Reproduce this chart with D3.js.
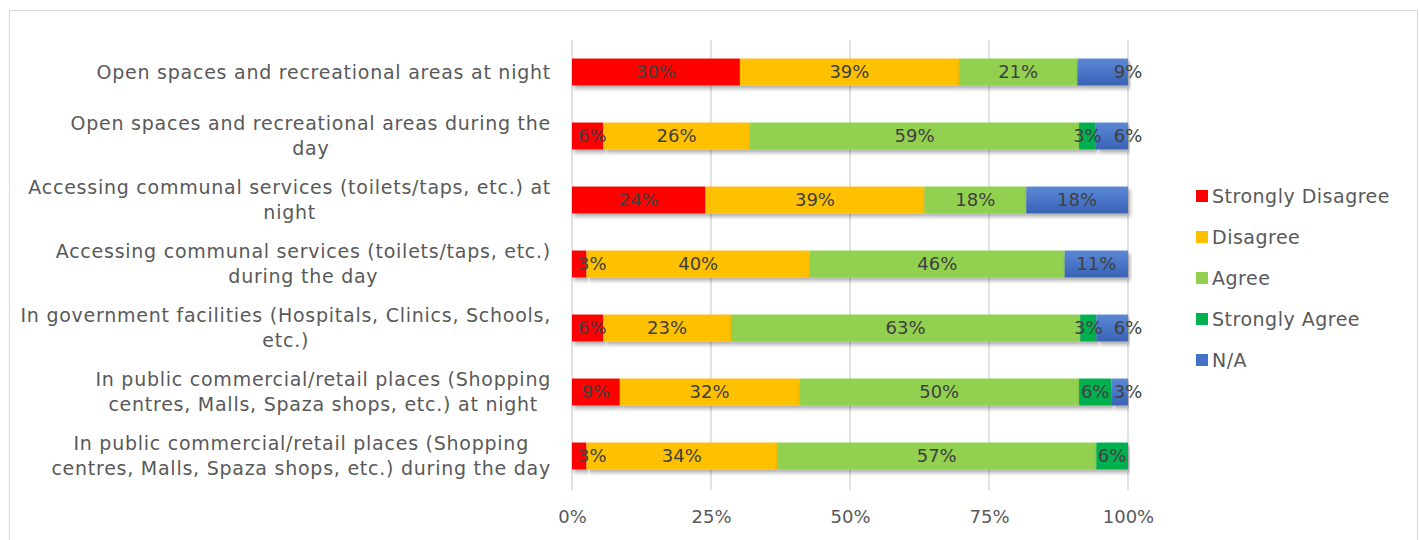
<!DOCTYPE html>
<html>
<head>
<meta charset="utf-8">
<script src="https://cdn.jsdelivr.net/npm/d3@7"></script>
<style>
  body { margin: 0; background: #fff; }
  svg { display: block; font-family: "DejaVu Sans", sans-serif; }
</style>
</head>
<body>
<div id="chart"></div>
<script>
// Survey rows, top to bottom. Each label is split into its display lines.
var categories = [
  ["Open spaces and recreational areas at night"],
  ["Open spaces and recreational areas during the", "day"],
  ["Accessing communal services (toilets/taps, etc.) at", "night"],
  ["Accessing communal services (toilets/taps, etc.)", "during the day"],
  ["In government facilities (Hospitals, Clinics, Schools,", "etc.)"],
  ["In public commercial/retail places (Shopping", "centres, Malls, Spaza shops, etc.) at night"],
  ["In public commercial/retail places (Shopping", "centres, Malls, Spaza shops, etc.) during the day"]
];

var seriesNames = ["Strongly Disagree", "Disagree", "Agree", "Strongly Agree", "N/A"];

// percent per row, same order as categories
var stronglyDisagree = [30.2, 5.6, 24.0, 2.6, 5.6, 8.6, 2.6];
var disagree         = [39.4, 26.4, 39.4, 40.2, 23.0, 32.3, 34.3];
var agree            = [21.3, 59.2, 18.3, 45.8, 62.8, 50.3, 57.4];
var stronglyAgree    = [0, 3.0, 0, 0, 2.9, 5.8, 5.7];
var notApplicable    = [9.1, 5.8, 18.3, 11.4, 5.7, 3.0, 0];

var xTicks = [0, 25, 50, 75, 100];

var colors = ["#FF0000", "#FFC000", "#92D050", "#00B050", "url(#naFill)"];
var legendColors = ["#FF0000", "#FFC000", "#92D050", "#00B050", "#4472C4"];

function buildChart() {
  var width = 1420, height = 540;
  var margin = {left: 572, right: 292, top: 40, bottom: 52};

  var rows = categories.map(function(c, i) {
    return {
      index: i,
      lines: c,
      values: [stronglyDisagree[i], disagree[i], agree[i], stronglyAgree[i], notApplicable[i]]
    };
  });

  var stacked = d3.stack().
      keys(d3.range(seriesNames.length)).
      value(function(d, k) { return d.values[k]; })(rows);

  var x = d3.scaleLinear().domain([0, 100]).range([margin.left, width - margin.right]);
  var y = d3.scaleBand().domain(d3.range(categories.length)).
      range([margin.top, height - margin.bottom]).paddingInner(0.58).paddingOuter(0.29);

  var svg = d3.select("#chart").append("svg").
      attr("width", width).
      attr("height", height);

  var defs = svg.append("defs");
  var grad = defs.append("linearGradient").attr("id", "naFill").
      attr("x1", 0).attr("y1", 0).attr("x2", 0).attr("y2", 1);
  grad.append("stop").attr("offset", "0%").attr("stop-color", "#5B88D6");
  grad.append("stop").attr("offset", "100%").attr("stop-color", "#3863B6");

  var shadow = defs.append("filter").attr("id", "barShadow").
      attr("x", "-5%").attr("y", "-30%").attr("width", "110%").attr("height", "180%");
  shadow.append("feDropShadow").
      attr("dx", 2).attr("dy", 3).attr("stdDeviation", 2).
      attr("flood-color", "#000").attr("flood-opacity", 0.35);

  // outer chart frame
  svg.append("rect").
      attr("x", 9.5).attr("y", 10.5).
      attr("width", 1408).attr("height", 560).
      attr("fill", "none").attr("stroke", "#D9D9D9");

  // gridlines, running a few px below the plot as tick marks
  svg.append("g").selectAll("line").
      data(xTicks).
      enter().append("line").
      attr("x1", function(d) { return x(d); }).
      attr("x2", function(d) { return x(d); }).
      attr("y1", margin.top).
      attr("y2", height - margin.bottom + 2).
      attr("stroke", "#D9D9D9").
      attr("stroke-width", 1.5);

  var xAxis = d3.axisBottom(x).tickValues(xTicks).
      tickFormat(function(d) { return d + "%"; }).tickSize(0).tickPadding(22);
  var axisG = svg.append("g").
      attr("transform", "translate(0," + (height - margin.bottom) + ")").
      call(xAxis);
  axisG.select(".domain").remove();
  axisG.selectAll("text").
      attr("fill", "#595959").
      attr("font-size", 18).
      attr("font-family", "DejaVu Sans, sans-serif");

  // bars
  var layers = svg.append("g").selectAll("g.layer").
      data(stacked).
      enter().append("g").
      attr("class", "layer").
      attr("fill", function(d, k) { return colors[k]; });

  layers.selectAll("rect").
      data(function(d) { return d; }).
      enter().append("rect").
      filter(function(d) { return d[1] - d[0] > 0; }).
      attr("x", function(d) { return x(d[0]); }).
      attr("y", function(d) { return y(d.data.index); }).
      attr("width", function(d) { return x(d[1]) - x(d[0]); }).
      attr("height", y.bandwidth()).
      attr("filter", "url(#barShadow)");

  // data labels
  var labelG = svg.append("g").
      attr("font-size", 18).
      attr("fill", "#404040").
      attr("text-anchor", "middle");

  stacked.forEach(function(layer, k) {
    layer.forEach(function(d) {
      var v = d[1] - d[0];
      if (v <= 0) return;
      var t = labelG.append("text").
          attr("y", y(d.data.index) + y.bandwidth() / 2).
          attr("dy", "0.36em").
          text(Math.round(v) + "%");
      var w = t.node().getComputedTextLength();
      var cx = (x(d[0]) + x(d[1])) / 2;
      if (k === 0) cx = Math.max(cx, x(d[0]) + w / 2 + 6);
      if (k === seriesNames.length - 1 && v < 10) cx = x(d[1]);
      t.attr("x", cx);
    });
  });

  // category labels: block right-aligned, lines centred within it
  var catG = svg.append("g").
      attr("font-size", 19).
      attr("letter-spacing", 0.75).
      attr("fill", "#595959").
      attr("text-anchor", "middle");
  var rightEdge = margin.left - 21;
  var lineHeight = 25;

  rows.forEach(function(r) {
    var t = catG.append("text");
    var mid = y(r.index) + y.bandwidth() / 2;
    var top = mid - (r.lines.length - 1) * lineHeight / 2;
    var spans = r.lines.map(function(line, j) {
      return t.append("tspan").
          attr("y", top + j * lineHeight).
          attr("dy", "0.36em").
          text(line);
    });
    var maxW = d3.max(spans, function(s) { return s.node().getComputedTextLength(); });
    spans.forEach(function(s) { s.attr("x", rightEdge - maxW / 2); });
  });

  // legend
  var legend = svg.append("g").selectAll("g").
      data(seriesNames).
      enter().append("g").
      attr("transform", function(d, i) { return "translate(1196," + (196 + i * 41) + ")"; });

  legend.append("rect").
      attr("x", 0).attr("y", -6).
      attr("width", 12).attr("height", 12).
      attr("fill", function(d, i) { return legendColors[i]; });

  legend.append("text").
      attr("x", 16).
      attr("dy", "0.36em").
      attr("font-size", 19).
      attr("letter-spacing", 0.5).
      attr("fill", "#595959").
      text(function(d) { return d; });
}

document.addEventListener('DOMContentLoaded', function () {
  buildChart();
});
</script>
</body>
</html>
